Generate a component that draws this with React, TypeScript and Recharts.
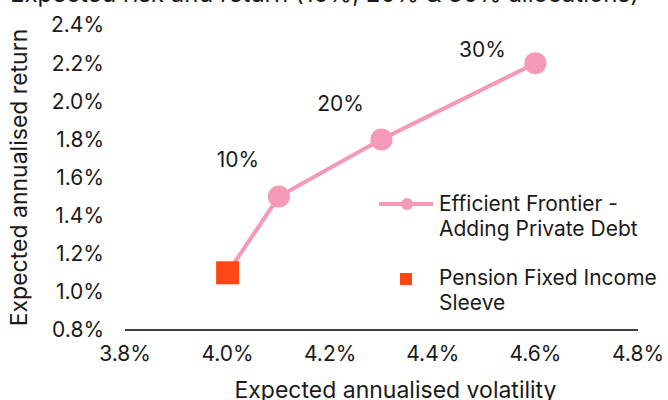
import { ScatterChart, Scatter, XAxis, YAxis, LabelList } from 'recharts';

// Efficient frontier when private debt is added (0%, 10%, 20%, 30% allocation)
const frontierVolatility = [4.0, 4.1, 4.3, 4.6];
const frontierReturn = [1.1, 1.5, 1.8, 2.2];
const frontierAllocation = ['', '10%', '20%', '30%'];

// Current pension fixed income sleeve
const sleeveVolatility = [4.0];
const sleeveReturn = [1.1];

const xTicks = [3.8, 4.0, 4.2, 4.4, 4.6, 4.8];
const yTicks = [0.8, 1.0, 1.2, 1.4, 1.6, 1.8, 2.0, 2.2, 2.4];

const frontierData = frontierVolatility.map((x, i) => ({
  x,
  y: frontierReturn[i],
  allocation: frontierAllocation[i],
}));
const sleeveData = sleeveVolatility.map((x, i) => ({ x, y: sleeveReturn[i] }));

const PINK = '#F59AB6';
const ORANGE = '#FF4714';
const TEXT = '#1a1a1a';
const FONT = 'Inter, "Liberation Sans", sans-serif';

const pct = (v: number) => `${v.toFixed(1)}%`;

const FrontierDot = (props: any) => {
  const { cx, cy, index } = props;
  if (index === 0) return <g />;
  return <circle cx={cx} cy={cy} r={11} fill={PINK} />;
};

const SleeveSquare = (props: any) => {
  const { cx, cy } = props;
  return <rect x={cx - 11.5} y={cy - 11.5} width={23} height={23} fill={ORANGE} />;
};

// labels sit up and to the left of each frontier point
const labelOffsets = [
  [0, 0],
  [-41, -37],
  [-41, -36],
  [-53, -14],
];

const AllocationLabel = (props: any) => {
  const { x, y, width, height, value, index } = props;
  if (!value) return null;
  const cx = x + (width || 0) / 2;
  const cy = y + (height || 0) / 2;
  const [dx, dy] = labelOffsets[index] || [0, 0];
  return (
    <text
      x={cx + dx}
      y={cy + dy}
      textAnchor="middle"
      dominantBaseline="central"
      fill={TEXT}
      fontSize={21}
      fontFamily={FONT}
    >
      {value}
    </text>
  );
};

// legend drawn straight into the svg so it doesn't take space from the plot
const ChartLegend = () => (
  <g fontFamily={FONT} fontSize={21} fill={TEXT}>
    <line x1={379} y1={204} x2={433} y2={204} stroke={PINK} strokeWidth={4} />
    <circle cx={407} cy={204} r={6} fill={PINK} />
    <text x={439} y={211}>Efficient Frontier -</text>
    <text x={439} y={236}>Adding Private Debt</text>
    <rect x={400} y={273} width={12} height={12} fill={ORANGE} />
    <text x={439} y={285}>Pension Fixed Income</text>
    <text x={439} y={310}>Sleeve</text>
  </g>
);

export default function App() {
  return (
    <div style={{ position: 'absolute', left: 0, top: 0, width: 668, height: 400, background: '#fff' }}>
      <ScatterChart width={668} height={400} margin={{ top: 25, right: 30, bottom: 0, left: 0 }}>
        <text x={10} y={2} fill={TEXT} fontSize={24} fontFamily={FONT}>
          Expected risk and return (10%, 20% &amp; 30% allocations)
        </text>
        <XAxis
          type="number"
          dataKey="x"
          domain={[3.8, 4.8]}
          ticks={xTicks}
          tickFormatter={pct}
          height={70}
          tickSize={0}
          tickMargin={16}
          axisLine={{ stroke: '#000', strokeWidth: 1.5 }}
          tick={{ fill: TEXT, fontSize: 21, fontFamily: FONT }}
          label={{
            value: 'Expected annualised volatility',
            position: 'insideBottom',
            offset: 2,
            dx: 14,
            fill: TEXT,
            fontSize: 23,
            fontFamily: FONT,
          }}
        />
        <YAxis
          type="number"
          dataKey="y"
          domain={[0.8, 2.4]}
          ticks={yTicks}
          tickFormatter={pct}
          width={125}
          tickSize={0}
          tickMargin={21}
          axisLine={false}
          tick={{ fill: TEXT, fontSize: 21, fontFamily: FONT }}
          label={{
            value: 'Expected annualised return',
            angle: -90,
            position: 'center',
            dx: -44,
            fill: TEXT,
            fontSize: 23,
            fontFamily: FONT,
          }}
        />
        <Scatter
          name="Efficient Frontier - Adding Private Debt"
          data={frontierData}
          line={{ stroke: PINK, strokeWidth: 4 }}
          lineJointType="linear"
          shape={<FrontierDot />}
          isAnimationActive={false}
        >
          <LabelList dataKey="allocation" content={<AllocationLabel />} />
        </Scatter>
        <Scatter
          name="Pension Fixed Income Sleeve"
          data={sleeveData}
          shape={<SleeveSquare />}
          isAnimationActive={false}
        />
        <ChartLegend />
      </ScatterChart>
    </div>
  );
}
